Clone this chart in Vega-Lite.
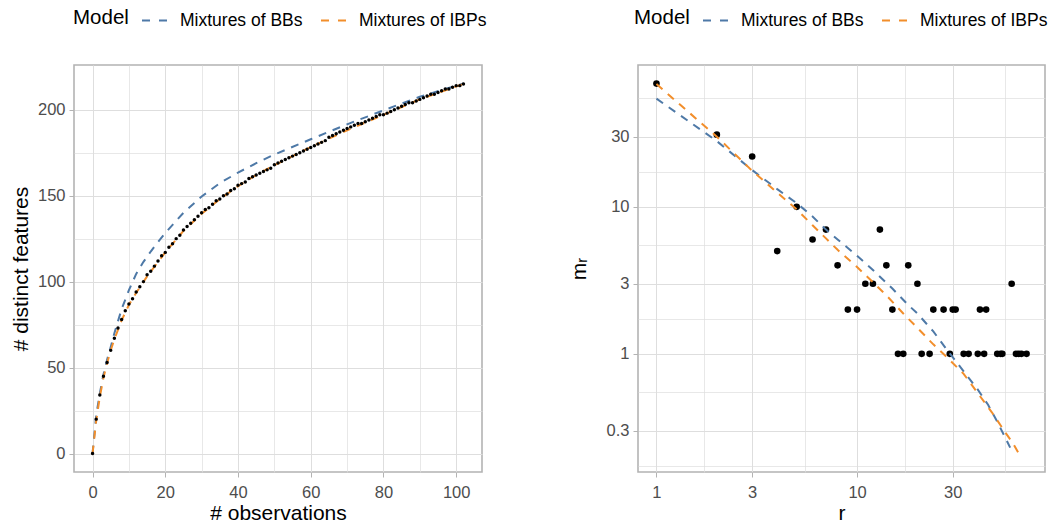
{
  "$schema": "https://vega.github.io/schema/vega-lite/v6.json",
  "background": "white",
  "padding": {"left": 9, "top": 6, "right": 0, "bottom": 0},
  "spacing": 156,
  "bounds": "flush",
  "config": {
    "font": "Liberation Sans",
    "view": {"stroke": "#B3B3B3", "strokeWidth": 1.6},
    "axis": {
      "domain": false,
      "tickColor": "#B3B3B3",
      "tickSize": 5,
      "tickWidth": 1,
      "labelColor": "#4D4D4D",
      "labelFontSize": 16.5,
      "labelFont": "Liberation Sans",
      "titleFont": "Liberation Sans",
      "titleFontSize": 21,
      "titleFontWeight": "normal",
      "titleColor": "#000000",
      "gridColor": "#DEDEDE",
      "labelPadding": 4
    },
    "legend": {
      "labelFont": "Liberation Sans",
      "titleFont": "Liberation Sans"
    }
  },
  "datasets": {
    "obs": [
      {"n":0,"K":0},{"n":1,"K":20},{"n":2,"K":34},{"n":3,"K":45},{"n":4,"K":53},{"n":5,"K":60},{"n":6,"K":67},{"n":7,"K":73},{"n":8,"K":78},{"n":9,"K":83},
      {"n":10,"K":87},{"n":11,"K":90},{"n":12,"K":94},{"n":13,"K":97},{"n":14,"K":100},{"n":15,"K":104},{"n":16,"K":106},{"n":17,"K":109},{"n":18,"K":112},{"n":19,"K":115},
      {"n":20,"K":117},{"n":21,"K":120},{"n":22,"K":122},{"n":23,"K":125},{"n":24,"K":127},{"n":25,"K":130},{"n":26,"K":132},{"n":27,"K":134},{"n":28,"K":136},{"n":29,"K":138},
      {"n":30,"K":140},{"n":31,"K":142},{"n":32,"K":143},{"n":33,"K":145},{"n":34,"K":147},{"n":35,"K":148},{"n":36,"K":150},{"n":37,"K":151},{"n":38,"K":153},{"n":39,"K":154},
      {"n":40,"K":156},{"n":41,"K":157},{"n":42,"K":158},{"n":43,"K":160},{"n":44,"K":161},{"n":45,"K":162},{"n":46,"K":163},{"n":47,"K":164},{"n":48,"K":165},{"n":49,"K":166},
      {"n":50,"K":168},{"n":51,"K":169},{"n":52,"K":170},{"n":53,"K":171},{"n":54,"K":172},{"n":55,"K":173},{"n":56,"K":174},{"n":57,"K":175},{"n":58,"K":176},{"n":59,"K":177},
      {"n":60,"K":178},{"n":61,"K":179},{"n":62,"K":180},{"n":63,"K":181},{"n":64,"K":182},{"n":65,"K":184},{"n":66,"K":185},{"n":67,"K":186},{"n":68,"K":187},{"n":69,"K":188},
      {"n":70,"K":189},{"n":71,"K":190},{"n":72,"K":191},{"n":73,"K":192},{"n":74,"K":192},{"n":75,"K":193},{"n":76,"K":194},{"n":77,"K":195},{"n":78,"K":196},{"n":79,"K":197},
      {"n":80,"K":197},{"n":81,"K":198},{"n":82,"K":199},{"n":83,"K":200},{"n":84,"K":201},{"n":85,"K":202},{"n":86,"K":203},{"n":87,"K":204},{"n":88,"K":204},{"n":89,"K":205},
      {"n":90,"K":206},{"n":91,"K":207},{"n":92,"K":208},{"n":93,"K":209},{"n":94,"K":209},{"n":95,"K":210},{"n":96,"K":211},{"n":97,"K":212},{"n":98,"K":212},{"n":99,"K":213},
      {"n":100,"K":214},{"n":101,"K":214},{"n":102,"K":215}
    ],
    "curves": [
      {"model":"Mixtures of BBs","n":0,"K":0},{"model":"Mixtures of BBs","n":1,"K":22},{"model":"Mixtures of BBs","n":2,"K":35},{"model":"Mixtures of BBs","n":3,"K":46},
      {"model":"Mixtures of BBs","n":4,"K":54.5},{"model":"Mixtures of BBs","n":5,"K":62},{"model":"Mixtures of BBs","n":6,"K":70},{"model":"Mixtures of BBs","n":7,"K":77},
      {"model":"Mixtures of BBs","n":8,"K":84},{"model":"Mixtures of BBs","n":10,"K":95},{"model":"Mixtures of BBs","n":12,"K":104.5},{"model":"Mixtures of BBs","n":14,"K":111.5},
      {"model":"Mixtures of BBs","n":16,"K":117.5},{"model":"Mixtures of BBs","n":18,"K":123},{"model":"Mixtures of BBs","n":20,"K":128.3},{"model":"Mixtures of BBs","n":25,"K":140},
      {"model":"Mixtures of BBs","n":30,"K":149.5},{"model":"Mixtures of BBs","n":35,"K":157.3},{"model":"Mixtures of BBs","n":40,"K":163.4},{"model":"Mixtures of BBs","n":45,"K":168.9},
      {"model":"Mixtures of BBs","n":50,"K":173.9},{"model":"Mixtures of BBs","n":60,"K":182.8},{"model":"Mixtures of BBs","n":70,"K":191.5},{"model":"Mixtures of BBs","n":80,"K":199.6},
      {"model":"Mixtures of BBs","n":90,"K":207.5},{"model":"Mixtures of BBs","n":102,"K":215.3},
      {"model":"Mixtures of IBPs","n":0,"K":0},{"model":"Mixtures of IBPs","n":1,"K":19},{"model":"Mixtures of IBPs","n":2,"K":33},{"model":"Mixtures of IBPs","n":3,"K":44},
      {"model":"Mixtures of IBPs","n":4,"K":52.5},{"model":"Mixtures of IBPs","n":5,"K":60},{"model":"Mixtures of IBPs","n":6,"K":66.5},{"model":"Mixtures of IBPs","n":8,"K":77.5},
      {"model":"Mixtures of IBPs","n":10,"K":86.5},{"model":"Mixtures of IBPs","n":12,"K":93.5},{"model":"Mixtures of IBPs","n":15,"K":103},{"model":"Mixtures of IBPs","n":20,"K":117},
      {"model":"Mixtures of IBPs","n":25,"K":129.5},{"model":"Mixtures of IBPs","n":30,"K":139.5},{"model":"Mixtures of IBPs","n":35,"K":148},{"model":"Mixtures of IBPs","n":40,"K":155.5},
      {"model":"Mixtures of IBPs","n":45,"K":162},{"model":"Mixtures of IBPs","n":50,"K":167.7},{"model":"Mixtures of IBPs","n":60,"K":178.3},{"model":"Mixtures of IBPs","n":70,"K":188},
      {"model":"Mixtures of IBPs","n":80,"K":197},{"model":"Mixtures of IBPs","n":90,"K":206},{"model":"Mixtures of IBPs","n":102,"K":215}
    ],
    "freq": [
      {"r":1,"m":69},{"r":2,"m":31},{"r":3,"m":22},{"r":4,"m":5},{"r":5,"m":10},{"r":6,"m":6},{"r":7,"m":7},{"r":8,"m":4},{"r":9,"m":2},{"r":10,"m":2},
      {"r":11,"m":3},{"r":12,"m":3},{"r":13,"m":7},{"r":14,"m":4},{"r":15,"m":2},{"r":16,"m":1},{"r":17,"m":1},{"r":18,"m":4},{"r":20,"m":3},{"r":21,"m":1},
      {"r":23,"m":1},{"r":24,"m":2},{"r":27,"m":2},{"r":29,"m":1},{"r":30,"m":2},{"r":31,"m":2},{"r":34,"m":1},{"r":36,"m":1},{"r":40,"m":1},{"r":41,"m":2},
      {"r":43,"m":1},{"r":44,"m":2},{"r":50,"m":1},{"r":52,"m":1},{"r":53,"m":1},{"r":59,"m":3},{"r":62,"m":1},{"r":64,"m":1},{"r":66,"m":1},{"r":70,"m":1}
    ],
    "fits": [
      {"model":"Mixtures of BBs","r":1,"m":54.5},{"model":"Mixtures of BBs","r":2,"m":28},{"model":"Mixtures of BBs","r":3,"m":17.8},{"model":"Mixtures of BBs","r":4,"m":13.2},
      {"model":"Mixtures of BBs","r":5,"m":10.6},{"model":"Mixtures of BBs","r":6,"m":8.6},{"model":"Mixtures of BBs","r":7,"m":7.0},{"model":"Mixtures of BBs","r":8,"m":6.0},
      {"model":"Mixtures of BBs","r":10,"m":4.65},{"model":"Mixtures of BBs","r":12,"m":3.72},{"model":"Mixtures of BBs","r":15,"m":2.78},{"model":"Mixtures of BBs","r":18,"m":2.15},
      {"model":"Mixtures of BBs","r":20,"m":1.88},{"model":"Mixtures of BBs","r":24,"m":1.42},{"model":"Mixtures of BBs","r":28,"m":1.07},{"model":"Mixtures of BBs","r":34,"m":0.76},
      {"model":"Mixtures of BBs","r":40,"m":0.57},{"model":"Mixtures of BBs","r":45,"m":0.45},{"model":"Mixtures of BBs","r":50,"m":0.345},{"model":"Mixtures of BBs","r":54,"m":0.28},
      {"model":"Mixtures of BBs","r":58,"m":0.23},
      {"model":"Mixtures of IBPs","r":1,"m":68.5},{"model":"Mixtures of IBPs","r":2,"m":30},{"model":"Mixtures of IBPs","r":3,"m":17.6},{"model":"Mixtures of IBPs","r":4,"m":12.5},
      {"model":"Mixtures of IBPs","r":5,"m":9.6},{"model":"Mixtures of IBPs","r":6,"m":7.5},{"model":"Mixtures of IBPs","r":7,"m":6.1},{"model":"Mixtures of IBPs","r":8,"m":5.1},
      {"model":"Mixtures of IBPs","r":10,"m":3.9},{"model":"Mixtures of IBPs","r":12,"m":3.07},{"model":"Mixtures of IBPs","r":14,"m":2.5},{"model":"Mixtures of IBPs","r":17,"m":1.88},
      {"model":"Mixtures of IBPs","r":20,"m":1.5},{"model":"Mixtures of IBPs","r":24,"m":1.16},{"model":"Mixtures of IBPs","r":28,"m":0.95},{"model":"Mixtures of IBPs","r":34,"m":0.73},
      {"model":"Mixtures of IBPs","r":40,"m":0.54},{"model":"Mixtures of IBPs","r":47,"m":0.4},{"model":"Mixtures of IBPs","r":55,"m":0.29},{"model":"Mixtures of IBPs","r":60,"m":0.245},
      {"model":"Mixtures of IBPs","r":64,"m":0.21}
    ]
  },
  "hconcat": [
    {
      "width": 408,
      "height": 407,
      "layer": [
        {
          "data": {"name": "curves"},
          "mark": {"type": "line", "strokeWidth": 2, "strokeDash": [8, 7]},
          "encoding": {
            "x": {"field": "n", "type": "quantitative", "scale": {"domain": [-5.1, 107.1], "nice": false, "zero": false},
              "axis": {"title": "# observations", "values": [0,10,20,30,40,50,60,70,80,90,100],
                "labelExpr": "datum.value % 20 === 0 ? datum.label : ''",
                "labelPadding": 7, "titlePadding": 2,
                "tickOpacity": {"condition": {"test": "datum.value % 20 !== 0", "value": 0}, "value": 1},
                "gridWidth": {"condition": {"test": "datum.value % 20 !== 0", "value": 0.7}, "value": 1}}},
            "y": {"field": "K", "type": "quantitative", "scale": {"domain": [-10.75, 226], "nice": false, "zero": false},
              "axis": {"title": "# distinct features", "values": [0,25,50,75,100,125,150,175,200],
                "labelExpr": "datum.value % 50 === 0 ? datum.label : ''",
                "titlePadding": 6,
                "tickOpacity": {"condition": {"test": "datum.value % 50 !== 0", "value": 0}, "value": 1},
                "gridWidth": {"condition": {"test": "datum.value % 50 !== 0", "value": 0.7}, "value": 1}}},
            "color": {"field": "model", "type": "nominal",
              "scale": {"domain": ["Mixtures of BBs", "Mixtures of IBPs"], "range": ["#4E79A7", "#F28E2B"]},
              "legend": {"orient": "none", "legendX": -1, "legendY": -58, "direction": "horizontal", "title": "Model",
                "titleOrient": "left", "titleFontSize": 20.5, "titleFontWeight": "normal", "titleColor": "#000000", "titlePadding": 12,
                "titleBaseline": "middle", "labelFontSize": 17.5, "labelColor": "#000000", "symbolType": "stroke", "symbolStrokeWidth": 2,
                "symbolDash": [8, 9], "symbolSize": 625, "labelOffset": 12, "columnPadding": 14}}
          }
        },
        {
          "data": {"name": "obs"},
          "mark": {"type": "point", "filled": true, "size": 12, "color": "#000000", "opacity": 1},
          "encoding": {
            "x": {"field": "n", "type": "quantitative"},
            "y": {"field": "K", "type": "quantitative"}
          }
        }
      ]
    },
    {
      "width": 407,
      "height": 407,
      "layer": [
        {
          "data": {"name": "freq"},
          "mark": {"type": "point", "filled": true, "size": 44, "color": "#000000", "opacity": 1},
          "encoding": {
            "x": {"field": "r", "type": "quantitative", "scale": {"type": "log", "domain": [0.809, 86.5], "nice": false},
              "axis": {"title": "r", "values": [1, 1.7320508, 3, 5.4772256, 10, 17.320508, 30, 54.772256],
                "labelExpr": "indexof([1,3,10,30], datum.value) >= 0 ? format(datum.value, '~g') : ''",
                "labelPadding": 7, "titlePadding": 2,
                "tickOpacity": {"condition": {"test": "indexof([1,3,10,30], datum.value) < 0", "value": 0}, "value": 1},
                "gridWidth": {"condition": {"test": "indexof([1,3,10,30], datum.value) < 0", "value": 0.7}, "value": 1}}},
            "y": {"field": "m", "type": "quantitative", "scale": {"type": "log", "domain": [0.157, 92.3], "nice": false},
              "axis": {"title": "mᵣ", "values": [0.17320508, 0.3, 0.54772256, 1, 1.7320508, 3, 5.4772256, 10, 17.320508, 30, 54.772256],
                "labelExpr": "indexof([0.3,1,3,10,30], datum.value) >= 0 ? format(datum.value, '~g') : ''",
                "titlePadding": 17,
                "tickOpacity": {"condition": {"test": "indexof([0.3,1,3,10,30], datum.value) < 0", "value": 0}, "value": 1},
                "gridWidth": {"condition": {"test": "indexof([0.3,1,3,10,30], datum.value) < 0", "value": 0.7}, "value": 1}}}
          }
        },
        {
          "data": {"name": "fits"},
          "mark": {"type": "line", "strokeWidth": 2, "strokeDash": [8, 7]},
          "encoding": {
            "x": {"field": "r", "type": "quantitative"},
            "y": {"field": "m", "type": "quantitative"},
            "color": {"field": "model", "type": "nominal",
              "scale": {"domain": ["Mixtures of BBs", "Mixtures of IBPs"], "range": ["#4E79A7", "#F28E2B"]},
              "legend": {"orient": "none", "legendX": -4, "legendY": -58, "direction": "horizontal", "title": "Model",
                "titleOrient": "left", "titleFontSize": 20.5, "titleFontWeight": "normal", "titleColor": "#000000", "titlePadding": 12,
                "titleBaseline": "middle", "labelFontSize": 17.5, "labelColor": "#000000", "symbolType": "stroke", "symbolStrokeWidth": 2,
                "symbolDash": [8, 9], "symbolSize": 625, "labelOffset": 12, "columnPadding": 14}}
          }
        }
      ]
    }
  ],
  "resolve": {"scale": {"color": "independent"}, "legend": {"color": "independent"}}
}
